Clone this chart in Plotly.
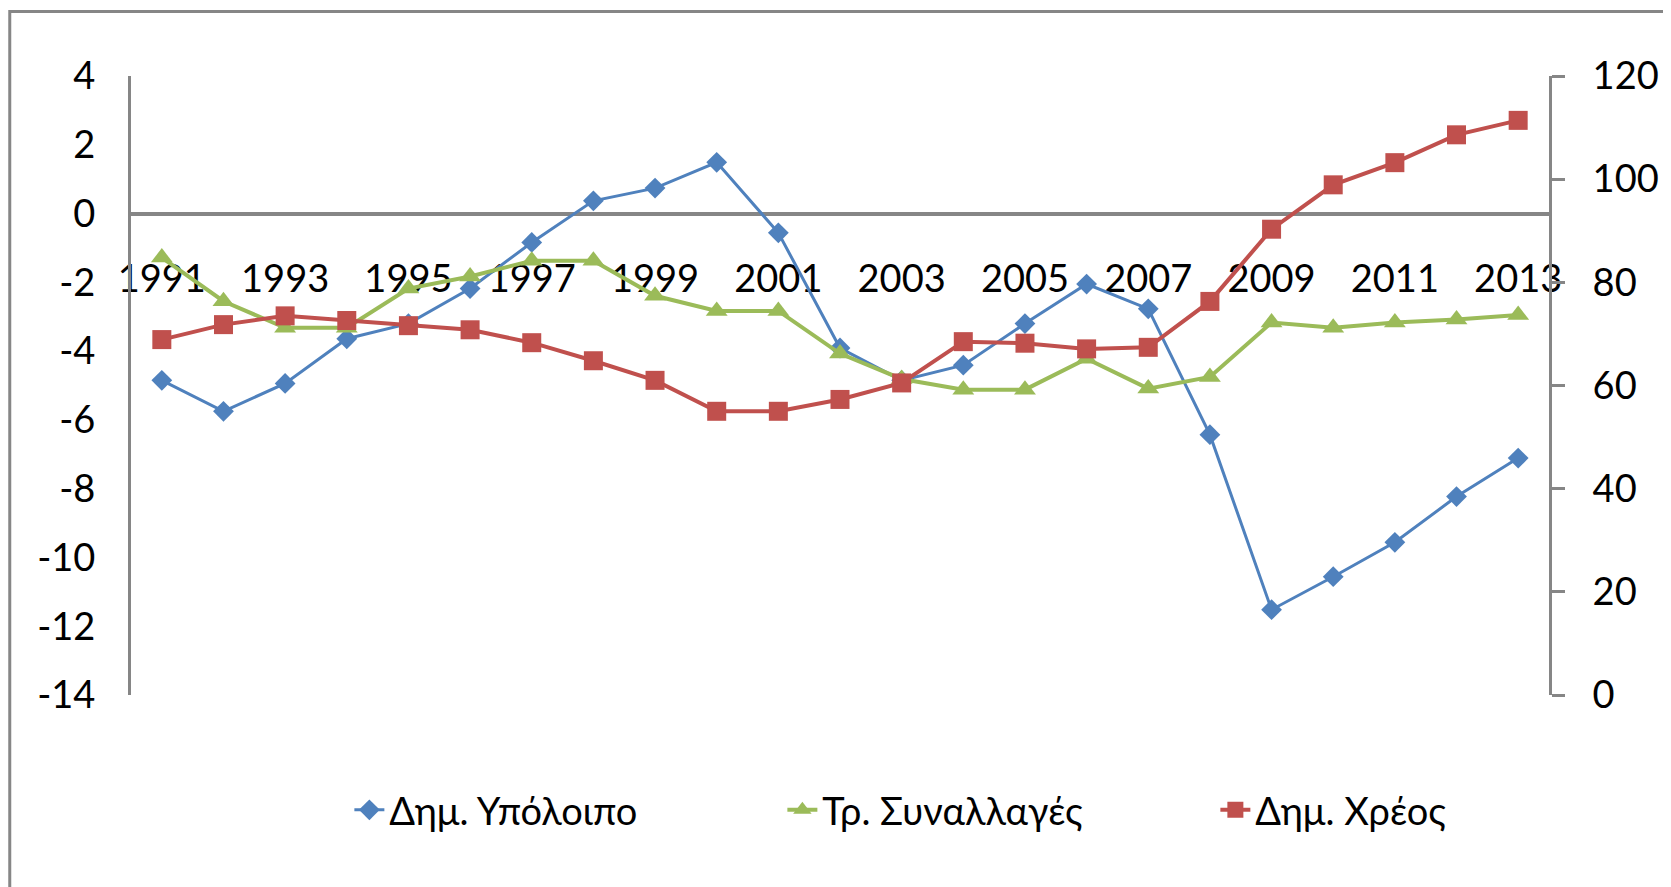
import plotly.graph_objects as go

years = list(range(1991, 2014))
tick_years = years[::2]
tick_text = [str(y) for y in tick_years]

left_ticks = list(range(-14, 5, 2))
left_text = [str(v) for v in left_ticks]  # plain hyphen-minus as in the original

# Δημ. Υπόλοιπο (left axis, % ΑΕΠ)
balance = [-4.85, -5.75, -4.94, -3.64, -3.2, -2.18, -0.84, 0.37, 0.74, 1.49, -0.56,
           -3.91, -4.85, -4.41, -3.2, -2.05, -2.77, -6.43, -11.52, -10.56, -9.56, -8.23, -7.11]
# Τρ. Συναλλαγές (left axis)
current = [-1.28, -2.55, -3.32, -3.32, -2.18, -1.83, -1.37, -1.37, -2.39, -2.83, -2.83,
           -4.07, -4.81, -5.12, -5.12, -4.22, -5.09, -4.75, -3.17, -3.32, -3.17, -3.08, -2.95]
# Δημ. Χρέος (right axis)
debt = [68.9, 71.8, 73.5, 72.6, 71.6, 70.8, 68.3, 64.8, 61.0, 55.0, 55.0,
        57.3, 60.5, 68.5, 68.2, 67.1, 67.4, 76.3, 90.3, 98.9, 103.2, 108.6, 111.4]

names = ["Δημ. Υπόλοιπο", "Τρ. Συναλλαγές", "Δημ. Χρέος"]
colors = ["#4F81BD", "#9BBB59", "#C0504D"]
GRAY = "#868686"
FONT = "Lato, 'Open Sans', sans-serif"
FS = 38

fig = go.Figure()
fig.add_trace(go.Scatter(x=years, y=balance, name=names[0], mode="lines+markers",
                         line=dict(color=colors[0], width=3),
                         marker=dict(symbol="diamond", size=16, color=colors[0])))
fig.add_trace(go.Scatter(x=years, y=current, name=names[1], mode="lines+markers",
                         line=dict(color=colors[1], width=4),
                         marker=dict(symbol="triangle-up", size=19, color=colors[1])))
fig.add_trace(go.Scatter(x=years, y=debt, name=names[2], mode="lines+markers", yaxis="y2",
                         line=dict(color=colors[2], width=4),
                         marker=dict(symbol="square", size=19, color=colors[2])))

fig.update_layout(
    width=1663, height=879,
    margin=dict(l=123, r=117, t=68, b=192),
    paper_bgcolor="white", plot_bgcolor="white",
    font=dict(family=FONT, size=FS, color="black"),
    showlegend=True,
    legend=dict(orientation="h", x=0.154, xanchor="left", y=-0.186, yanchor="middle",
                font=dict(family=FONT, size=FS, color="black"),
                entrywidth=388, entrywidthmode="pixels", itemwidth=30),
    xaxis=dict(range=[1990.5, 2013.5], anchor="free", position=14 / 18,
               tickvals=tick_years, ticktext=tick_text, ticks="",
               showline=True, linecolor=GRAY, linewidth=4, showgrid=False, zeroline=False,
               ticklabelstandoff=31, layer="below traces",
               tickfont=dict(family=FONT, size=FS, color="black")),
    yaxis=dict(range=[-14, 4], tickvals=left_ticks, ticktext=left_text,
               showline=True, linecolor=GRAY, linewidth=3,
               ticks="", showgrid=False, zeroline=False, ticklabelstandoff=25,
               tickfont=dict(family=FONT, size=FS, color="black")),
    yaxis2=dict(range=[0, 120], dtick=20, tick0=0, overlaying="y", side="right",
                showline=True, linecolor=GRAY, linewidth=3, ticks="outside", ticklen=13,
                tickwidth=3, tickcolor=GRAY, showgrid=False, zeroline=False,
                ticklabelstandoff=20,
                tickfont=dict(family=FONT, size=FS, color="black")),
    shapes=[dict(type="rect", xref="paper", yref="paper", x0=-0.0855, x1=1.3,
                 y0=-0.6, y1=1.104, line=dict(color=GRAY, width=3), layer="below")],
)

fig.write_html("out.html")
